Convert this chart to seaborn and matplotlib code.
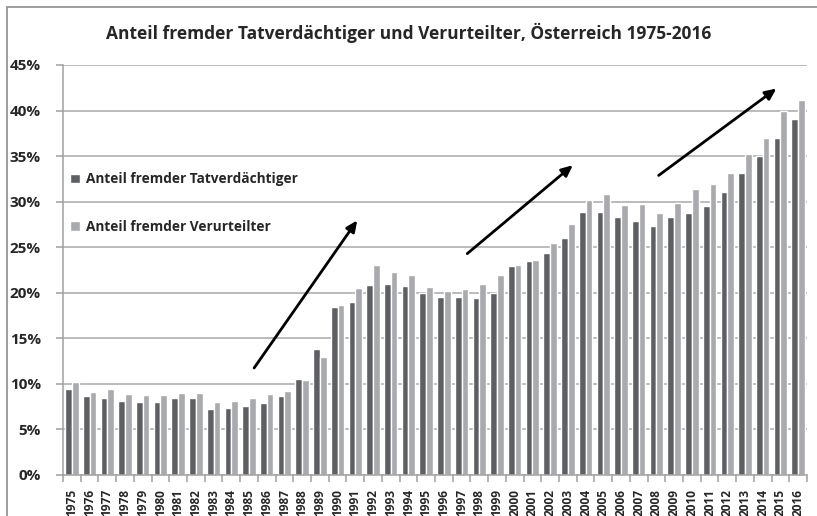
#!/usr/bin/env python3
"""Anteil fremder Tatverdächtiger und Verurteilter, Österreich 1975-2016."""
import matplotlib

matplotlib.use("Agg")
import matplotlib.pyplot as plt  # noqa: E402
import numpy as np  # noqa: E402
import pandas as pd  # noqa: E402
import seaborn as sns  # noqa: E402
from matplotlib.patches import Rectangle  # noqa: E402
from matplotlib.ticker import FixedLocator, FuncFormatter  # noqa: E402

years = list(range(1975, 2017))

# percent values
tatverdaechtige = [
    9.4, 8.7, 8.5, 8.1, 8.0, 8.0, 8.4, 8.5, 7.2, 7.4,
    7.6, 7.9, 8.7, 10.5, 13.8, 18.4, 19.0, 20.9, 21.0, 20.7,
    20.0, 19.5, 19.5, 19.4, 20.0, 22.9, 23.5, 24.4, 26.0, 28.9,
    28.9, 28.3, 27.9, 27.3, 28.3, 28.8, 29.5, 31.1, 33.1, 35.0,
    37.0, 39.1,
]
verurteilte = [
    10.2, 9.1, 9.4, 8.9, 8.8, 8.8, 9.0, 9.0, 8.0, 8.1,
    8.5, 8.9, 9.2, 10.4, 13.0, 18.7, 20.5, 23.1, 22.3, 22.0,
    20.6, 20.2, 20.4, 21.0, 21.9, 23.0, 23.6, 25.5, 27.5, 30.2,
    30.8, 29.6, 29.7, 28.8, 29.9, 31.4, 31.9, 33.2, 35.2, 37.0,
    40.0, 41.2,
]
series_names = ["Anteil fremder Tatverdächtiger", "Anteil fremder Verurteilter"]
series_colors = ["#5e5f63", "#a9aaae"]

# trend arrows (tail -> head) in category/percent coordinates
arrows = [
    ((10.2, 11.5), (16.2, 28.2)),
    ((22.2, 24.1), (28.4, 34.2)),
    ((33.0, 32.7), (39.9, 42.6)),
]

df = pd.DataFrame({
    "Jahr": [str(y) for y in years] * 2,
    "Anteil": tatverdaechtige + verurteilte,
    "Reihe": [series_names[0]] * len(years) + [series_names[1]] * len(years),
})

sns.set_theme(style="white")
plt.rcParams["font.family"] = ["Open Sans", "DejaVu Sans"]
plt.rcParams["font.weight"] = "bold"

fig = plt.figure(figsize=(8.17, 5.16), dpi=100)
ax = fig.add_axes([63 / 817, 1 - 475 / 516, 744 / 817, 410 / 516])

sns.barplot(data=df, x="Jahr", y="Anteil", hue="Reihe", palette=series_colors,
            width=0.76, gap=0, saturation=1, ax=ax, legend=True)

ax.set_ylim(0, 45)
ax.set_xlim(-0.5, len(years) - 0.5)
ax.set_yticks(np.arange(0, 46, 5))
ax.yaxis.set_major_formatter(FuncFormatter(lambda v, _: f"{v:.0f}%"))
ax.yaxis.grid(True, color="#a8a8a8", linewidth=1.1)
ax.set_axisbelow(True)
ax.set_xlabel("")
ax.set_ylabel("")

for side in ["top", "right"]:
    ax.spines[side].set_visible(False)
for side in ["left", "bottom"]:
    ax.spines[side].set_color("#a0a0a0")
    ax.spines[side].set_linewidth(1.1)

ax.tick_params(axis="y", which="major", left=True, length=5, width=1.1,
               color="#a0a0a0", labelsize=11, pad=11)
ax.tick_params(axis="x", which="major", bottom=False, labelsize=8.6,
               labelrotation=90, pad=4)
ax.xaxis.set_minor_locator(FixedLocator(np.arange(-0.5, len(years), 1)))
ax.tick_params(axis="x", which="minor", bottom=True, length=5, width=1.1,
               color="#a0a0a0")
for lbl in ax.get_xticklabels() + ax.get_yticklabels():
    lbl.set_fontweight("bold")

for tail, head in arrows:
    ax.annotate("", xy=head, xytext=tail,
                arrowprops={"arrowstyle": "-|>,head_length=0.55,head_width=0.25",
                            "color": "black", "lw": 2})

leg = ax.legend(loc="upper left", bbox_to_anchor=(-0.007, 0.768), frameon=False,
                handlelength=0.7, handleheight=0.7, handletextpad=0.45,
                labelspacing=2.45, prop={"weight": "bold", "size": 9.8})

fig.text(0.5, 1 - 33 / 516, "Anteil fremder Tatverdächtiger und Verurteilter, Österreich 1975-2016",
         ha="center", va="center", fontsize=12.5, fontweight="bold")

fig.patches.append(Rectangle((7 / 817, -0.1), 1.2, 1.1 - 7 / 516,
                             transform=fig.transFigure, fill=False,
                             edgecolor="#8c8c8c", linewidth=1.2))

fig.savefig("out.png", dpi=100)
plt.close(fig)
